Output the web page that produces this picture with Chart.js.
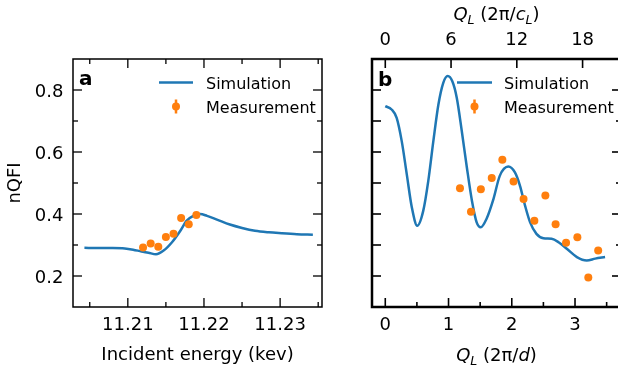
<!DOCTYPE html>
<html>
<head>
<meta charset="utf-8">
<script src="https://cdn.jsdelivr.net/npm/chart.js@4.4.1/dist/chart.umd.min.js"></script>
<style>
html, body { margin: 0; padding: 0; background: #fff; overflow: hidden; width: 618px; height: 370px; }
#ca { position: absolute; left: 0; top: 0; }
#cb { position: absolute; left: 340px; top: 0; }
</style>
</head>
<body>
<canvas id="ca" width="340" height="370"></canvas>
<canvas id="cb" width="285" height="370"></canvas>
<script>
// panel a: nQFI vs incident energy
var energySim = [11.2043, 11.206, 11.208, 11.2096, 11.2107, 11.2118, 11.2127, 11.2137, 11.2147, 11.2158, 11.2169, 11.2177, 11.2186, 11.2195, 11.2204, 11.2217, 11.2234, 11.2250, 11.2267, 11.2285, 11.2302, 11.2322, 11.2343];
var nqfiSimA = [0.291, 0.290, 0.290, 0.289, 0.285, 0.279, 0.275, 0.270, 0.282, 0.309, 0.346, 0.378, 0.394, 0.400, 0.394, 0.382, 0.366, 0.355, 0.346, 0.341, 0.338, 0.335, 0.333];
var energyMeas = [11.212, 11.213, 11.214, 11.215, 11.216, 11.217, 11.218, 11.219];
var nqfiMeasA = [0.292, 0.305, 0.294, 0.326, 0.336, 0.387, 0.367, 0.397];

// panel b: nQFI vs Q_L
var qSim = [0, 0.10, 0.18, 0.26, 0.34, 0.42, 0.506, 0.60, 0.68, 0.76, 0.84, 0.917, 0.987, 1.06, 1.13, 1.21, 1.29, 1.37, 1.445, 1.509, 1.60, 1.71, 1.81, 1.945, 2.05, 2.13, 2.21, 2.29, 2.39, 2.50, 2.63, 2.74, 2.87, 3.03, 3.185, 3.32, 3.475];
var nqfiSimB = [0.748, 0.737, 0.71, 0.635, 0.528, 0.421, 0.362, 0.41, 0.507, 0.635, 0.753, 0.823, 0.845, 0.828, 0.775, 0.667, 0.55, 0.443, 0.373, 0.357, 0.384, 0.448, 0.523, 0.553, 0.534, 0.491, 0.427, 0.373, 0.336, 0.322, 0.32, 0.309, 0.288, 0.261, 0.25, 0.256, 0.261];
var qMeas = [1.181, 1.355, 1.511, 1.683, 1.851, 2.028, 2.186, 2.357, 2.531, 2.693, 2.858, 3.037, 3.21, 3.366];
var nqfiMeasB = [0.483, 0.407, 0.480, 0.516, 0.575, 0.505, 0.448, 0.378, 0.460, 0.367, 0.307, 0.325, 0.195, 0.282];

// tick values
var energyTicks = [11.21, 11.22, 11.23];
var energyMinor = [11.205, 11.215, 11.225, 11.235];
var nqfiTicks = [0.2, 0.4, 0.6, 0.8];
var nqfiMinor = [0.3, 0.5, 0.7];
var nqfiAll = [0.2, 0.3, 0.4, 0.5, 0.6, 0.7, 0.8];
var qTicks = [0, 1, 2, 3];
var qMinor = [0.5, 1.5, 2.5, 3.5];
var qcTicks = [0, 6, 12, 18];
var qRatio = 5.77; // Q_L in 2pi/c_L per unit of 2pi/d

var blue = '#1f77b4';
var orange = '#ff7f0e';
var fam = '"DejaVu Sans", sans-serif';
Chart.defaults.font.family = fam;
Chart.defaults.color = '#000';

function pts(xs, ys) {
  var out = [];
  for (var i = 0; i < xs.length; i++) out.push({x: xs[i], y: ys[i]});
  return out;
}

function fixedTicks(vals) {
  return function(scale) { scale.ticks = vals.map(function(v) { return {value: v}; }); };
}

// inward tick marks + frame
var frameTicks = {
  id: 'frameTicks',
  afterDatasetsDraw: function(chart, args, opts) {
    var ctx = chart.ctx, a = chart.chartArea;
    ctx.save();
    ctx.strokeStyle = '#000';
    ctx.lineWidth = opts.tickWidth;
    opts.marks.forEach(function(m) {
      var sc = chart.scales[m.scale];
      m.values.forEach(function(v) {
        var p = sc.getPixelForValue(v);
        ctx.beginPath();
        if (m.side == 'bottom') { ctx.moveTo(p, a.bottom); ctx.lineTo(p, a.bottom - m.len); }
        else if (m.side == 'top') { ctx.moveTo(p, a.top); ctx.lineTo(p, a.top + m.len); }
        else if (m.side == 'left') { ctx.moveTo(a.left, p); ctx.lineTo(a.left + m.len, p); }
        else { ctx.moveTo(a.right, p); ctx.lineTo(a.right - m.len, p); }
        ctx.stroke();
      });
    });
    ctx.lineWidth = opts.frameWidth;
    ctx.strokeRect(a.left, a.top, a.right - a.left, a.bottom - a.top);
    ctx.restore();
  }
};

// panel letter + legend
var panelLegend = {
  id: 'panelLegend',
  afterDraw: function(chart, args, o) {
    var ctx = chart.ctx;
    ctx.save();
    ctx.fillStyle = '#000';
    ctx.font = 'bold 20px ' + fam;
    ctx.textBaseline = 'alphabetic';
    ctx.fillText(o.letter, o.letterX, o.letterY);
    ctx.strokeStyle = blue;
    ctx.lineWidth = 2.5;
    ctx.beginPath();
    ctx.moveTo(o.lineX0, o.y1);
    ctx.lineTo(o.lineX1, o.y1);
    ctx.stroke();
    var mx = (o.lineX0 + o.lineX1) / 2;
    ctx.strokeStyle = orange;
    ctx.lineWidth = 2.5;
    ctx.beginPath();
    ctx.moveTo(mx, o.y2 - 7);
    ctx.lineTo(mx, o.y2 + 7);
    ctx.stroke();
    ctx.fillStyle = orange;
    ctx.beginPath();
    ctx.arc(mx, o.y2, 4, 0, Math.PI * 2);
    ctx.fill();
    ctx.fillStyle = '#000';
    ctx.font = '16px ' + fam;
    ctx.fillText('Simulation', o.textX, o.y1 + 6);
    ctx.fillText('Measurement', o.textX, o.y2 + 6);
    ctx.restore();
  }
};

// Q_L axis titles with italics and subscripts
function drawMath(ctx, parts, cx, baseY) {
  var fs = 18, w = 0;
  parts.forEach(function(p) {
    ctx.font = (p.it ? 'italic ' : '') + (p.sub ? 12.6 : fs) + 'px ' + fam;
    p.w = ctx.measureText(p.t).width;
    w += p.w;
  });
  var x = cx - w / 2;
  ctx.textAlign = 'left';
  ctx.textBaseline = 'alphabetic';
  parts.forEach(function(p) {
    ctx.font = (p.it ? 'italic ' : '') + (p.sub ? 12.6 : fs) + 'px ' + fam;
    ctx.fillText(p.t, x, baseY + (p.sub ? 4 : 0));
    x += p.w;
  });
}

var qTitles = {
  id: 'qTitles',
  afterDraw: function(chart) {
    var ctx = chart.ctx, a = chart.chartArea;
    var cx = (a.left + a.right) / 2;
    ctx.save();
    ctx.fillStyle = '#000';
    drawMath(ctx, [{t: 'Q', it: true}, {t: 'L', it: true, sub: true}, {t: ' (2\u03c0/'}, {t: 'c', it: true}, {t: 'L', it: true, sub: true}, {t: ')'}], cx, 20);
    drawMath(ctx, [{t: 'Q', it: true}, {t: 'L', it: true, sub: true}, {t: ' (2\u03c0/'}, {t: 'd', it: true}, {t: ')'}], cx, 361);
    ctx.restore();
  }
};

var tickFont = {size: 18, family: fam};
var noGrid = {display: false, drawTicks: false};

var chartA = new Chart(document.getElementById('ca'), {
  type: 'scatter',
  data: {
    datasets: [
      {label: 'Measurement', data: pts(energyMeas, nqfiMeasA), backgroundColor: orange, borderWidth: 0, pointRadius: 4, order: 0},
      {label: 'Simulation', data: pts(energySim, nqfiSimA), showLine: true, borderColor: blue, borderWidth: 2.5, pointRadius: 0, cubicInterpolationMode: 'monotone', order: 1}
    ]
  },
  options: {
    responsive: false,
    animation: false,
    layout: {padding: {left: 0, right: 18, top: 59, bottom: 0}},
    plugins: {
      legend: {display: false},
      tooltip: {enabled: false},
      frameTicks: {
        tickWidth: 1.3, frameWidth: 1.5,
        marks: [
          {scale: 'x', side: 'bottom', values: energyTicks, len: 9},
          {scale: 'x', side: 'bottom', values: energyMinor, len: 5},
          {scale: 'x', side: 'top', values: energyTicks, len: 9},
          {scale: 'x', side: 'top', values: energyMinor, len: 5},
          {scale: 'y', side: 'left', values: nqfiTicks, len: 9},
          {scale: 'y', side: 'left', values: nqfiMinor, len: 5},
          {scale: 'y', side: 'right', values: nqfiTicks, len: 9},
          {scale: 'y', side: 'right', values: nqfiMinor, len: 5}
        ]
      },
      panelLegend: {letter: 'a', letterX: 79, letterY: 85, lineX0: 159, lineX1: 193, textX: 206, y1: 82.5, y2: 106.5}
    },
    scales: {
      x: {
        type: 'linear', min: 11.2028, max: 11.2355,
        grid: noGrid, border: {display: false},
        afterBuildTicks: fixedTicks(energyTicks),
        afterFit: function(s) { s.height = 63; },
        ticks: {font: tickFont, padding: 8, maxRotation: 0, autoSkip: false, callback: function(v) { return v.toFixed(2); }},
        title: {display: true, text: 'Incident energy (kev)', font: {size: 18, family: fam}, padding: {top: 0, bottom: 3.5}}
      },
      y: {
        min: 0.1, max: 0.9,
        grid: noGrid, border: {display: false},
        afterBuildTicks: fixedTicks(nqfiTicks),
        afterFit: function(s) { s.width = 73; },
        ticks: {font: tickFont, padding: 9.5, labelOffset: 2.5, callback: function(v) { return v.toFixed(1); }},
        title: {display: true, text: 'nQFI', font: {size: 18, family: fam}, padding: {top: 5, bottom: 0}}
      }
    }
  },
  plugins: [frameTicks, panelLegend]
});

var chartB = new Chart(document.getElementById('cb'), {
  type: 'scatter',
  data: {
    datasets: [
      {label: 'Measurement', data: pts(qMeas, nqfiMeasB), backgroundColor: orange, borderWidth: 0, pointRadius: 4, order: 0},
      {label: 'Simulation', data: pts(qSim, nqfiSimB), showLine: true, borderColor: blue, borderWidth: 2.5, pointRadius: 0, cubicInterpolationMode: 'monotone', order: 1}
    ]
  },
  options: {
    responsive: false,
    animation: false,
    layout: {padding: {left: 32, right: 4, top: 0, bottom: 0}},
    plugins: {
      legend: {display: false},
      tooltip: {enabled: false},
      frameTicks: {
        tickWidth: 1.6, frameWidth: 2.5,
        marks: [
          {scale: 'x', side: 'bottom', values: qTicks, len: 9},
          {scale: 'x', side: 'bottom', values: qMinor, len: 5},
          {scale: 'x2', side: 'top', values: qcTicks, len: 9},
          {scale: 'y', side: 'left', values: nqfiAll, len: 9},
          {scale: 'y', side: 'right', values: nqfiTicks, len: 9},
          {scale: 'y', side: 'right', values: nqfiMinor, len: 5}
        ]
      },
      panelLegend: {letter: 'b', letterX: 38, letterY: 86, lineX0: 117, lineX1: 152, textX: 164, y1: 82.5, y2: 106.5}
    },
    scales: {
      x: {
        type: 'linear', position: 'bottom', min: -0.21, max: 3.727,
        grid: noGrid, border: {display: false},
        afterBuildTicks: fixedTicks(qTicks),
        afterFit: function(s) { s.height = 63; },
        ticks: {font: tickFont, padding: 8, maxRotation: 0, autoSkip: false, callback: function(v) { return String(v); }}
      },
      x2: {
        type: 'linear', position: 'top', axis: 'x', min: -0.21 * qRatio, max: 3.727 * qRatio,
        grid: noGrid, border: {display: false},
        afterBuildTicks: fixedTicks(qcTicks),
        afterFit: function(s) { s.height = 59; },
        ticks: {font: tickFont, padding: 7.5, maxRotation: 0, autoSkip: false, callback: function(v) { return String(v); }}
      },
      y: {
        display: false, min: 0.1, max: 0.9
      }
    }
  },
  plugins: [frameTicks, panelLegend, qTitles]
});
</script>
</body>
</html>
